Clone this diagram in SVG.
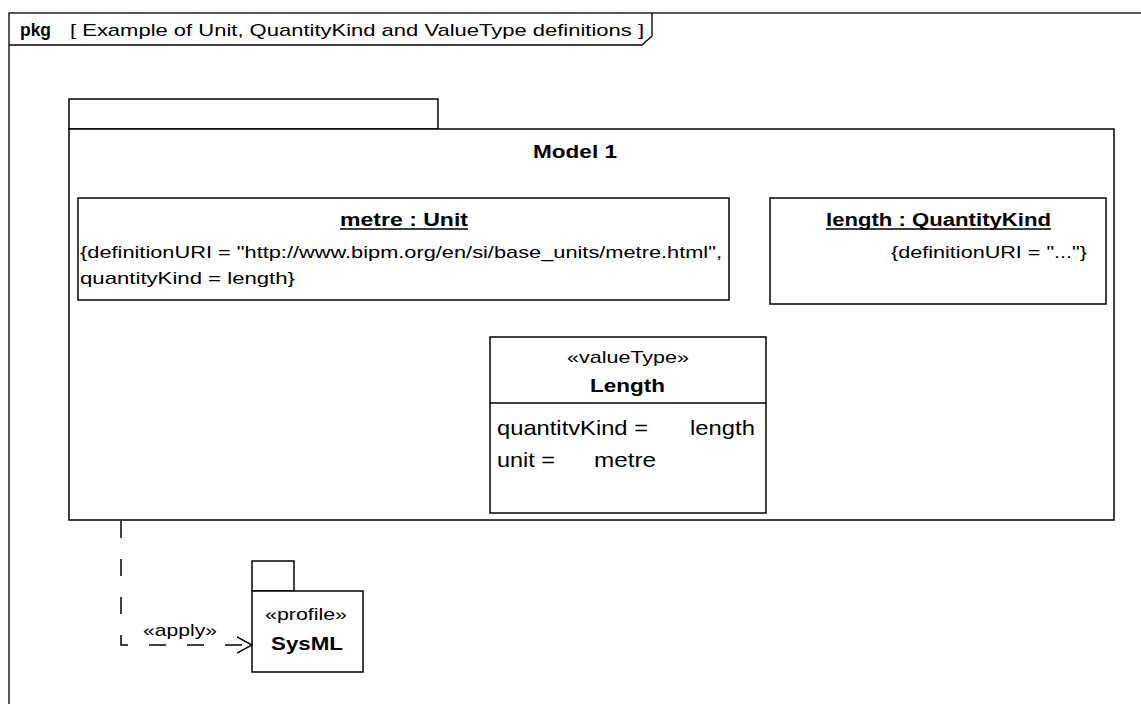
<svg xmlns="http://www.w3.org/2000/svg" width="1141" height="704" viewBox="0 0 1141 704">
<style>
text{font-family:"Liberation Sans",Arial,sans-serif;fill:#000}
.r{font-size:17px}
.b{font-size:18px;font-weight:bold}
.a{font-size:21px}
.box{fill:#fff;stroke:#000;stroke-width:1.5}
.thin{fill:none;stroke:#000;stroke-width:1.3}
.dep{fill:none;stroke:#000;stroke-width:1.5;stroke-dasharray:17 21}
</style>
<defs>
<marker id="open" viewBox="0 0 16 18" refX="15" refY="9" markerWidth="16" markerHeight="18" markerUnits="userSpaceOnUse" orient="auto">
<path d="M0,1 L15,9 L0,17" fill="none" stroke="#000" stroke-width="1.5"/>
</marker>
</defs>
<rect width="1141" height="704" fill="#fff"/>
<g id="frame">
<rect x="9" y="13" width="1200" height="800" class="thin"/>
<path d="M9,45 L642,45 L652,36 L652,13" class="thin"/>
<text x="20" y="36" class="b" textLength="31" lengthAdjust="spacingAndGlyphs">pkg</text>
<text x="70" y="36" class="r" textLength="574" lengthAdjust="spacingAndGlyphs">[ Example of Unit, QuantityKind and ValueType definitions ]</text>
</g>
<g id="model1">
<rect x="69" y="99" width="369" height="30" class="box"/>
<rect x="69" y="129" width="1045" height="391" class="box"/>
<text x="533" y="158" class="b" textLength="84" lengthAdjust="spacingAndGlyphs">Model 1</text>
</g>
<g id="metre">
<rect x="78" y="198" width="651" height="102" class="box"/>
<text x="340" y="226" class="b" textLength="128" lengthAdjust="spacingAndGlyphs">metre : Unit</text>
<line x1="340" y1="229" x2="468" y2="229" stroke="#000" stroke-width="1.3"/>
<text x="80" y="258" class="r" textLength="642" lengthAdjust="spacingAndGlyphs">{definitionURI = "http://www.bipm.org/en/si/base_units/metre.html",</text>
<text x="80" y="284" class="r" textLength="215" lengthAdjust="spacingAndGlyphs">quantityKind = length}</text>
</g>
<g id="lengthQK">
<rect x="770" y="198" width="336" height="106" class="box"/>
<text x="826" y="226" class="b" textLength="225" lengthAdjust="spacingAndGlyphs">length : QuantityKind</text>
<line x1="826" y1="229" x2="1051" y2="229" stroke="#000" stroke-width="1.3"/>
<text x="891" y="258" class="r" textLength="196" lengthAdjust="spacingAndGlyphs">{definitionURI = "..."}</text>
</g>
<g id="LengthVT">
<rect x="490" y="337" width="276" height="176" class="box"/>
<line x1="490" y1="403" x2="766" y2="403" stroke="#000" stroke-width="1.5"/>
<text x="567" y="363" class="r" textLength="122" lengthAdjust="spacingAndGlyphs">«valueType»</text>
<text x="590" y="392" class="b" textLength="75" lengthAdjust="spacingAndGlyphs">Length</text>
<text x="497" y="435" class="a" textLength="151" lengthAdjust="spacingAndGlyphs">quantitvKind =</text>
<text x="690" y="435" class="a" textLength="65" lengthAdjust="spacingAndGlyphs">length</text>
<text x="497" y="467" class="a" textLength="58" lengthAdjust="spacingAndGlyphs">unit =</text>
<text x="594" y="467" class="a" textLength="62" lengthAdjust="spacingAndGlyphs">metre</text>
</g>
<g id="SysML">
<rect x="252" y="561" width="42" height="30" class="box"/>
<rect x="252" y="591" width="111" height="81" class="box"/>
<text x="265" y="620" class="r" textLength="82" lengthAdjust="spacingAndGlyphs">«profile»</text>
<text x="271" y="650" class="b" textLength="72" lengthAdjust="spacingAndGlyphs">SysML</text>
</g>
<g id="connectors">
<path d="M121,521 L121,645 L252,645" class="dep" marker-end="url(#open)"/>
<text x="143" y="636" class="r" textLength="74" lengthAdjust="spacingAndGlyphs">«apply»</text>
</g>
</svg>
